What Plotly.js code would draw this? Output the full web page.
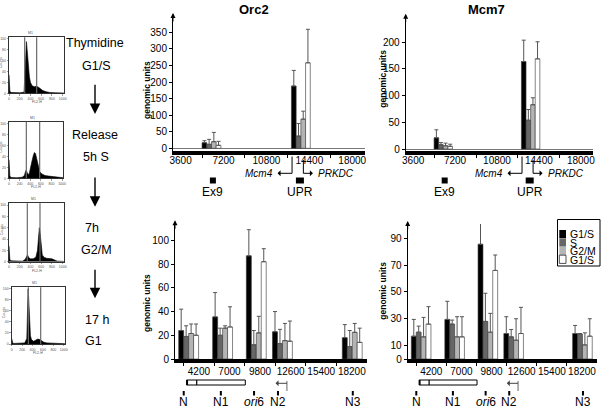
<!DOCTYPE html>
<html><head><meta charset="utf-8">
<script src="https://cdn.plot.ly/plotly-3.0.1.min.js"></script>
<style>html,body{margin:0;padding:0;background:#fff;}#chart{width:608px;height:410px;}</style>
</head><body><div id="chart"></div>
<script>
// ================= DATA =================
const phaseNames = ['G1/S', 'S', 'G2/M', 'G1/S'];

// top panels (Mcm4 / PRKDC locus)
const topSites = ['Ex9', 'UPR'];
const topSitePos = [6190, 13690];
const topMarkPos = [6310, 13610];
const topTicks = [3600, 7200, 10800, 14400, 18000];
const tssNames = ['Mcm4', 'PRKDC'];
const tssPos = [12950, 13900];

const orc2TopVals = [[17, 188], [12, 37], [20, 88], [9, 258]];
const orc2TopErr  = [[6, 47], [15, 38], [28, 24], [12, 101]];
const mcm7TopVals = [[21, 164], [8, 54], [6, 83], [5, 169]];
const mcm7TopErr  = [[15, 40], [4, 20], [5, 13], [4, 32]];

// bottom panels (ori6 locus)
const botSites = ['N', 'N1', 'ori6', 'N2', 'N3'];
const botSitePos = [3260, 6370, 9455, 11850, 18240];
const botMarkPos = [2810, 6210, 9250, 11440, 18290];
const botTicks = [4200, 7000, 9800, 12600, 15400, 18200];
const geneBox = [3070, 8450];
const geneExonEnd = 4000;
const oriArrow = [12260, 11080]; // start, end (leftward)

const orc2BotVals = [[24, 35.5, 87, 23, 18], [19, 20, 12, 13, 10.5], [21.5, 26, 22, 15.5, 22.5], [20, 27, 82, 15, 14]];
const orc2BotErr  = [[18, 20.5, 22, 17, 11], [9, 6, 12, 12, 13.5], [8, 2, 14, 14.5, 7.5], [9.5, 17, 11, 17, 12]];
const mcm7BotVals = [[17, 29.5, 85.5, 19, 19], [20, 26, 28, 16.5, 18.5], [16.5, 16.5, 20, 14, 10.5], [26, 16.5, 66, 19, 17]];
const mcm7BotErr  = [[12.5, 13.5, 16, 12.5, 6], [4.5, 3, 21, 5.5, 0.5], [14.5, 15, 14, 16, 9], [13, 15, 11.5, 19.5, 13]];

// FACS histograms (FL2-H channel vs relative counts)
const hist1Ch  = [0, 8, 16, 40, 100, 200, 280, 295, 310, 325, 340, 360, 380, 400, 430, 470, 510, 550, 590, 630, 690, 760, 860, 1000, 1023];
const hist1Cnt = [34, 14, 4, 1.5, 1, 1, 2, 30, 80, 95, 78, 48, 30, 20, 14, 12, 13, 11, 8, 5, 3, 1.5, 1, 0.5, 0.5];
const hist2Ch  = [0, 8, 16, 40, 150, 250, 290, 310, 325, 340, 360, 380, 400, 430, 460, 480, 500, 520, 550, 580, 620, 680, 750, 850, 950, 1023];
const hist2Cnt = [34, 12, 4, 1.5, 1, 2, 5, 12, 15, 11, 7, 8, 15, 30, 42, 47, 45, 35, 20, 12, 8, 5, 4, 3, 2, 1];
const hist3Ch  = [0, 8, 16, 40, 100, 250, 300, 330, 345, 370, 400, 450, 500, 530, 550, 565, 580, 600, 620, 650, 700, 800, 850, 900, 1023];
const hist3Cnt = [28, 10, 4, 1.5, 1, 1, 4, 11, 12, 7, 5, 5, 8, 20, 45, 60, 50, 25, 12, 8, 6, 5, 3, 1, 0.5];
const hist4Ch  = [0, 8, 20, 40, 150, 250, 290, 305, 315, 325, 340, 360, 380, 420, 460, 500, 540, 580, 620, 680, 800, 1023];
const hist4Cnt = [10, 5, 2, 1, 1, 2, 10, 60, 100, 85, 40, 15, 8, 5, 7, 9, 8, 5, 3, 2, 1, 0.5];
const gates = [[292, 515], [327, 578], [341, 577], [320, 557]];
const histTicksX = [0, 200, 400, 600, 800, 1000];
const histTicksY = [0, 20, 40, 60, 80, 100];

const stepLabels = [['Thymidine', 'G1/S'], ['Release', '5h S'], ['7h', 'G2/M'], ['17 h', 'G1']];
const panelTitles = ['Orc2', 'Mcm7'];
const yTitle = 'genomic units';

// ================= LAYOUT HELPERS =================
const W = 608, H = 410;
const px = x => x / W, py = y => 1 - y / H;
const FONT = 'Liberation Sans, Arial, Helvetica, sans-serif';
const phaseColors = ['#000000', '#666666', '#b4b4b4', '#ffffff'];

const traces = [], shapes = [], ann = [];
function txt(x, y, text, size, extra) {
  ann.push(Object.assign({xref: 'paper', yref: 'paper', x: px(x), y: py(y), text: text, showarrow: false,
    font: {size: size, color: '#000', family: FONT}, xanchor: 'center', yanchor: 'middle'}, extra || {}));
}

const layout = {
  width: W, height: H, margin: {l: 0, r: 0, t: 0, b: 0},
  paper_bgcolor: '#fff', plot_bgcolor: 'rgba(0,0,0,0)',
  font: {family: FONT, size: 10, color: '#000'},
  showlegend: false, barmode: 'overlay'
};

const panels = [
  {xd: [173, 365], yd: [16, 150.5], xr: [2962, 19071], yr: [-6.6, 399.2], ydt: 50, ticks: topTicks, m0: 5400, md: 3600,
   sites: topSitePos, vals: orc2TopVals, err: orc2TopErr, bw: 395, zero: true, lso: -3},
  {xd: [405.7, 593.3], yd: [16.7, 150.5], xr: [2962, 19071], yr: [-2.8, 248], ydt: 50, ticks: topTicks, m0: 5400, md: 3600,
   sites: topSitePos, vals: mcm7TopVals, err: mcm7TopErr, bw: 395, zero: true, lso: -3},
  {xd: [175, 366.7], yd: [223.3, 359], xr: [2012, 19564], yr: [0, 114.4], ydt: 20, ticks: botTicks, m0: 2800, md: 2800,
   sites: botSitePos, vals: orc2BotVals, err: orc2BotErr, bw: 455, zero: false, lso: 0},
  {xd: [407.7, 596.7], yd: [224, 359], xr: [2012, 19564], yr: [0, 100.6], ytv: [0, 10, 30, 50, 70, 90], ticks: botTicks, m0: 2800, md: 2800,
   sites: botSitePos, vals: mcm7BotVals, err: mcm7BotErr, bw: 455, zero: false, lso: 0}
];

panels.forEach((p, k) => {
  const sfx = k ? String(k + 1) : '';
  const xr = 'x' + sfx, yr = 'y' + sfx;
  layout['xaxis' + sfx] = {
    domain: [px(p.xd[0]), px(p.xd[1])], range: p.xr, anchor: yr,
    showline: true, linecolor: '#000', linewidth: 4, ticks: '',
    tickmode: 'array', tickvals: p.ticks, ticktext: p.ticks.map(String), tickangle: 0, ticklabelstandoff: p.lso,
    tickfont: {size: 10, color: '#000'}, showgrid: false, zeroline: false, fixedrange: true,
    minor: {ticks: 'outside', ticklen: 3, tickwidth: 1, tickcolor: '#000', tickmode: 'linear', tick0: p.m0, dtick: p.md, showgrid: false}
  };
  const ya = {
    domain: [py(p.yd[1]), py(p.yd[0])], range: p.yr, anchor: xr,
    showline: true, linecolor: '#000', linewidth: 1, ticks: 'outside', ticklen: 3, tickwidth: 1, tickcolor: '#000',
    tickfont: {size: 10, color: '#000'}, showgrid: false, zeroline: p.zero, zerolinecolor: '#777', zerolinewidth: 1, fixedrange: true
  };
  if (p.ytv) { ya.tickmode = 'array'; ya.tickvals = p.ytv; } else { ya.tickmode = 'linear'; ya.tick0 = 0; ya.dtick = p.ydt; }
  layout['yaxis' + sfx] = ya;

  const n = p.vals.length;
  p.vals.forEach((v, i) => {
    traces.push({
      type: 'bar', x: p.sites, y: v, xaxis: xr, yaxis: yr, name: phaseNames[i],
      width: p.bw, offset: (i - n / 2) * p.bw,
      marker: {color: phaseColors[i], line: {color: '#333', width: 0.6}},
      error_y: {type: 'data', symmetric: false, array: p.err[i], arrayminus: v.map(() => 0), color: '#555', thickness: 1, width: 2},
      hoverinfo: 'skip'
    });
  });

  // y axis arrow
  ann.push({xref: 'paper', yref: 'paper', x: px(p.xd[0]), y: py(p.yd[0] - 3), ax: 0, ay: 10, text: '', showarrow: true,
    arrowhead: 2, arrowsize: 1, arrowwidth: 1, arrowcolor: '#000'});

  // y title
  txt(k % 2 === 0 ? 147 : 382.7, [90, 79, 303, 291][k], '<b>' + yTitle + '</b>', 8.5, {textangle: -90});

  if (k < 2) {
    // site markers Ex9 / UPR
    topSites.forEach((s, j) => {
      shapes.push({type: 'rect', xref: xr, xsizemode: 'pixel', xanchor: topMarkPos[j], x0: j ? -4 : -3, x1: j ? 4 : 3,
        yref: 'paper', y0: py(183.5), y1: py(177.5), fillcolor: '#000', line: {width: 0}});
      ann.push({xref: xr, yref: 'paper', x: topMarkPos[j], y: py(191.5), text: s, showarrow: false,
        font: {size: 12, color: '#000', family: FONT}, xanchor: 'center', yanchor: 'middle'});
    });
    // transcription start arrows
    tssPos.forEach((t, j) => {
      shapes.push({type: 'line', xref: xr, yref: 'paper', x0: t, x1: t, y0: py(j ? 160 : 156.5), y1: py(173.3), line: {color: '#000', width: 1}});
      ann.push({xref: xr, yref: 'paper', x: t, y: py(173.3), ax: j ? 11 : -16, ay: 0, text: '', showarrow: true,
        arrowside: 'start', arrowhead: 2, arrowsize: 1, arrowwidth: 1, arrowcolor: '#000', standoff: 0, startstandoff: 0});
      ann.push({xref: xr, yref: 'paper', x: t, y: py(173.5), xshift: j ? 13 : -17, text: '<i>' + tssNames[j] + '</i>', showarrow: false,
        font: {size: 10, color: '#000', family: FONT}, xanchor: j ? 'left' : 'right', yanchor: 'middle'});
    });
    txt(k ? 486.7 : 254, 9.5, '<b>' + panelTitles[k] + '</b>', 13);
  } else {
    // gene box
    shapes.push({type: 'rect', xref: xr, yref: 'paper', x0: geneBox[0], x1: geneBox[1], y0: py(385), y1: py(380),
      fillcolor: '#fff', line: {color: '#000', width: 1}});
    shapes.push({type: 'rect', xref: xr, xsizemode: 'pixel', xanchor: geneBox[0], x0: 0, x1: 1.5, yref: 'paper', y0: py(385), y1: py(380),
      fillcolor: '#000', line: {width: 0}});
    shapes.push({type: 'line', xref: xr, yref: 'paper', x0: geneExonEnd, x1: geneExonEnd, y0: py(385), y1: py(380), line: {color: '#000', width: 1.2}});
    // origin-proximal transcription arrow
    shapes.push({type: 'line', xref: xr, yref: 'paper', x0: oriArrow[0], x1: oriArrow[0], y0: py(381), y1: py(391), line: {color: '#666', width: 1}});
    ann.push({xref: xr, yref: 'paper', x: oriArrow[0], y: py(383.3), axref: xr, ax: oriArrow[1], ay: 0, text: '', showarrow: true,
      arrowside: 'start', arrowhead: 2, arrowsize: 1, arrowwidth: 1, arrowcolor: '#444', standoff: 0, startstandoff: 0});
    botSites.forEach((s, j) => {
      shapes.push({type: 'rect', xref: xr, xsizemode: 'pixel', xanchor: botMarkPos[j], x0: -1, x1: 1,
        yref: 'paper', y0: py(395.5), y1: py(391), fillcolor: '#000', line: {width: 0}});
      ann.push({xref: xr, yref: 'paper', x: botMarkPos[j], y: py(410), text: s.replace(/^ori/, '<i>ori</i>'), showarrow: false,
        font: {size: 12, color: '#000', family: FONT}, xanchor: 'center', yanchor: 'bottom', borderpad: 0});
    });
  }
});

// manual legend (bottom-right panel)
shapes.push({type: 'rect', xref: 'paper', yref: 'paper', x0: px(557.5), x1: px(600), y0: py(266), y1: py(219.5),
  fillcolor: '#fff', line: {color: '#000', width: 1}});
phaseNames.forEach((nm, i) => {
  const yt = 230 + i * 8.4;
  shapes.push({type: 'rect', xref: 'paper', yref: 'paper', x0: px(559.3), x1: px(566), y0: py(yt + 8.2), y1: py(yt),
    fillcolor: phaseColors[i], line: {color: '#222', width: i === 3 ? 0.8 : 0}});
  txt(567.5, yt + 4.3, nm, 10.5, {xanchor: 'left'});
});

// FACS histograms
const hists = [
  {ch: hist1Ch, cnt: hist1Cnt, xd: [9, 64], yd: [37.3, 93.3]},
  {ch: hist2Ch, cnt: hist2Cnt, xd: [9, 63.3], yd: [121.7, 178.3]},
  {ch: hist3Ch, cnt: hist3Cnt, xd: [9, 64], yd: [203.3, 261.7]},
  {ch: hist4Ch, cnt: hist4Cnt, xd: [11.7, 65], yd: [287.3, 344]}
];
hists.forEach((h, j) => {
  const k = 5 + j, xr = 'x' + k, yr = 'y' + k;
  const common = {showline: true, mirror: true, linecolor: '#000', linewidth: 0.8, ticks: 'outside', ticklen: 1.5, tickwidth: 0.5,
    tickcolor: '#444', tickfont: {size: 3.5, color: '#555'}, showgrid: false, zeroline: false, fixedrange: true, tickmode: 'array', tickangle: 0};
  layout['xaxis' + k] = Object.assign({domain: [px(h.xd[0]), px(h.xd[1])], range: [0, 1024], anchor: yr, tickvals: histTicksX}, common);
  layout['yaxis' + k] = Object.assign({domain: [py(h.yd[1]), py(h.yd[0])], range: [0, 103], anchor: xr, tickvals: histTicksY}, common);
  traces.push({type: 'scatter', x: h.ch, y: h.cnt, xaxis: xr, yaxis: yr, mode: 'lines', line: {color: '#000', width: 0.6},
    fill: 'tozeroy', fillcolor: '#000', hoverinfo: 'skip'});
  gates[j].forEach(g => shapes.push({type: 'line', xref: xr, yref: yr + ' domain', x0: g, x1: g, y0: 0, y1: 1, line: {color: '#6a6a6a', width: 1.2}}));
  ann.push({xref: xr, yref: yr + ' domain', x: (gates[j][0] + gates[j][1]) / 2, y: 1, yanchor: 'bottom', text: 'M1', showarrow: false,
    font: {size: 3.5, color: '#555', family: FONT}});
  ann.push({xref: xr, yref: yr + ' domain', x: 512, y: 0, yshift: -9, yanchor: 'middle', text: 'FL2-H', showarrow: false,
    font: {size: 3.5, color: '#555', family: FONT}});
  ann.push({xref: xr, yref: yr + ' domain', x: 0, xshift: -7.5, y: 0.55, textangle: -90, text: 'Counts', showarrow: false,
    font: {size: 3.5, color: '#555', family: FONT}});
});

// step labels and arrows on the left
const stepY = [[43.3, 65.8], [135, 157], [227.8, 249.8], [319.5, 340.7]];
const stepX = [[95, 96.3], [95, 95.8], [92.2, 96.3], [96.7, 93.8]];
stepLabels.forEach((pair, i) => {
  pair.forEach((t, m) => txt(stepX[i][m], stepY[i][m], t, 12.5));
});
[[83.3, 114], [176, 206.7], [268.3, 298.3]].forEach(a => {
  ann.push({xref: 'paper', yref: 'paper', x: px(95), y: py(a[1]), ax: 0, ay: -(a[1] - a[0]), text: '', showarrow: true,
    arrowhead: 2, arrowsize: 1.5, arrowwidth: 1.4, arrowcolor: '#000', standoff: 0});
});

layout.shapes = shapes;
layout.annotations = ann;
Plotly.newPlot('chart', traces, layout, {staticPlot: true, displayModeBar: false});
</script>
</body></html>
